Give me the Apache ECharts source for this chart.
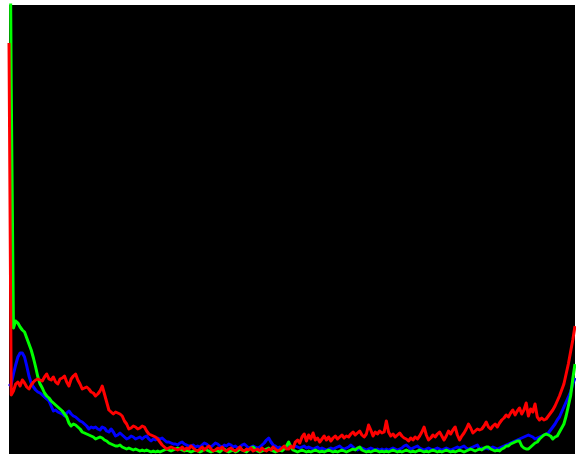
<!DOCTYPE html>
<html>
<head>
<meta charset="utf-8">
<script src="https://cdn.jsdelivr.net/npm/echarts@6/dist/echarts.min.js"></script>
<style>
html,body{margin:0;padding:0;background:#fff;}
#chart{width:576px;height:454px;}
</style>
</head>
<body>
<div id="chart"></div>
<script>
// Histogram bins 0..255 (pixel counts, scaled units)
const redValues = [
411,59,63,70,72,68,74,71,67,65,
69,72,74,75,74,73,77,80,75,74,
77,72,70,75,76,78,72,68,75,78,
80,74,70,65,66,67,65,62,61,58,
60,63,68,60,52,44,42,40,42,41,
40,38,33,30,25,26,28,27,25,26,
28,27,23,20,19,18,17,15,12,9,
7,5,6,7,6,5,4,5,7,4,
6,5,8,6,4,3,5,7,4,6,
8,5,3,4,6,5,7,4,3,5,
6,4,3,5,7,4,3,5,4,6,
3,4,5,3,6,4,3,5,4,7,
5,3,4,6,8,5,5,8,6,12,
14,11,17,20,13,19,15,21,14,16,
12,15,18,14,17,13,16,18,15,17,
19,16,18,17,20,22,19,21,23,19,
17,20,29,24,18,22,20,23,21,22,
33,22,18,20,17,19,21,18,16,15,
13,16,14,17,15,18,22,27,19,14,
16,19,17,20,22,18,14,18,23,20,
24,27,19,14,18,21,25,30,26,21,
23,25,24,25,28,32,27,25,28,30,
27,31,34,36,39,37,41,44,39,43,
46,40,44,51,38,45,42,50,37,34,
36,34,35,38,41,44,48,53,58,64,
70,80,90,102,114,128
];
const greenValues = [
700,368,126,133,131,127,124,122,116,110,
104,96,87,77,70,66,61,58,56,53,
51,49,47,45,43,40,37,31,28,30,
29,27,25,22,21,20,19,18,17,15,
16,17,16,14,13,11,10,9,8,8,
9,7,6,5,6,5,4,5,4,3,
4,3,4,3,2,3,2,3,2,3,
4,5,4,3,4,5,6,5,4,3,
4,3,2,3,4,3,2,3,5,4,
3,2,3,4,3,2,4,5,3,2,
3,4,2,3,5,4,3,2,4,6,
7,5,3,2,3,4,5,6,4,3,
2,3,4,3,5,8,12,7,4,3,
2,3,4,3,2,3,2,3,4,3,
2,3,2,3,4,3,2,3,2,3,
4,3,2,3,4,5,4,6,7,4,
3,2,3,2,3,4,3,2,3,2,
3,2,3,4,3,2,3,2,3,4,
3,2,3,2,3,4,3,2,3,2,
3,4,3,2,3,2,3,4,3,2,
3,2,3,4,3,2,3,4,5,4,
3,4,5,4,6,7,7,5,4,3,
4,3,5,6,8,8,10,11,12,13,
13,8,6,5,5,7,9,11,12,15,
17,19,20,19,18,15,17,18,22,26,
30,38,48,58,75,90
];
const blueValues = [
68,70,80,89,97,101,101,97,88,78,
71,67,64,62,61,59,57,55,53,48,
43,44,42,41,40,38,41,43,40,38,
37,35,33,32,30,28,25,27,26,27,
25,24,27,26,23,22,25,22,18,19,
21,19,17,15,16,18,17,15,16,17,
15,17,18,15,13,15,14,16,15,16,
14,12,12,11,10,10,9,11,12,10,
9,8,8,9,7,8,7,9,11,10,
8,7,9,11,10,8,7,9,8,10,
9,7,8,6,7,9,10,8,6,7,
8,7,6,7,9,11,14,16,12,9,
8,6,7,5,6,7,8,7,6,8,
7,6,7,8,6,7,6,5,6,7,
5,6,5,4,5,6,5,6,7,8,
6,5,6,7,9,7,5,4,5,6,
5,4,5,6,5,4,5,4,5,4,
5,4,5,6,5,4,5,6,8,9,
7,5,6,7,8,6,5,4,5,6,
5,4,5,6,5,4,5,6,5,4,
5,6,7,6,7,8,6,5,6,7,
8,9,5,6,5,6,5,6,7,6,
5,6,7,8,9,10,11,12,13,14,
15,16,17,18,19,18,17,15,16,17,
18,19,20,21,24,27,30,34,37,42,
47,52,57,62,70,76
];
const binCount = 256;
const yMax = 449;

const toPairs = arr => arr.map((v, i) => [i, v]);

const chart = echarts.init(document.getElementById('chart'), null, {renderer: 'canvas'});
const mkSeries = (name, data, color) => ({
  name, type: 'line', data: toPairs(data), showSymbol: false, symbol: 'none',
  clip: true, animation: false,
  lineStyle: {color, width: 3, join: 'round'}
});
chart.setOption({
  animation: false,
  backgroundColor: '#ffffff',
  grid: {left: 9, right: 1, top: 5, bottom: 0, show: true, backgroundColor: '#000000', borderWidth: 0},
  xAxis: {type: 'value', min: 0, max: binCount - 1, show: false},
  yAxis: {type: 'value', min: 0, max: yMax, show: false},
  series: [
    mkSeries('B', blueValues, '#0000ff'),
    mkSeries('G', greenValues, '#00ff00'),
    mkSeries('R', redValues, '#ff0000')
  ]
});
</script>
</body>
</html>
